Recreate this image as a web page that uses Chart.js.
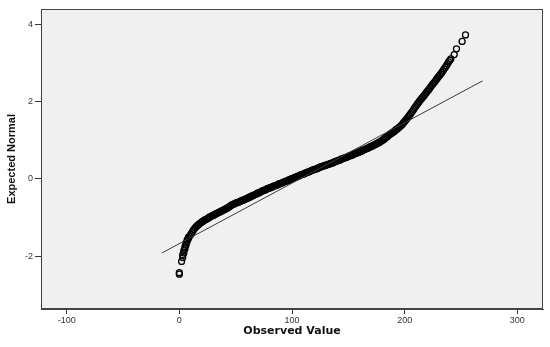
<!DOCTYPE html>
<html><head><meta charset="utf-8">
<script src="https://cdn.jsdelivr.net/npm/chart.js@4/dist/chart.umd.min.js"></script>
<style>html,body{margin:0;padding:0;background:#fff;overflow:hidden}#wrap{width:550px;height:347px}</style>
</head><body><div id="wrap"><canvas id="c" width="550" height="347"></canvas></div>
<script>
const observed = [
0,0,2,3,3,4,4,5,5,6,6,7,7,8,8,9,
10,11,12,13,14,15,16,17,18,19,
20,21,22,23,24,25,26,27,28,29,
30,31,32,33,34,35,36,37,38,39,
40,41,42,43,44,45,46,47,48,49,
50,51,52,53,54,55,56,57,58,59,
60,61,62,63,64,65,66,67,68,69,
70,71,72,73,74,75,76,77,78,79,
80,81,82,83,84,85,86,87,88,89,
90,91,92,93,94,95,96,97,98,99,
100,101,102,103,104,105,106,107,108,109,
110,111,112,113,114,115,116,117,118,119,
120,121,122,123,124,125,126,127,128,129,
130,131,132,133,134,135,136,137,138,139,
140,141,142,143,144,145,146,147,148,149,
150,151,152,153,154,155,156,157,158,159,
160,161,162,163,164,165,166,167,168,169,
170,171,172,173,174,175,176,177,178,179,
180,181,182,183,184,185,186,187,188,189,
190,191,192,193,194,195,196,197,198,199,
200,201,202,203,204,205,206,207,208,209,
210,211,212,213,214,215,216,217,218,219,
220,221,222,223,224,225,226,227,228,229,
230,231,232,233,234,235,236,237,238,239,
240,241,244,246,251,254
];
const expectedNormal = [
-2.47,-2.43,-2.14,-2.04,-1.97,-1.92,-1.86,-1.81,-1.76,-1.71,-1.66,-1.62,-1.58,-1.55,-1.52,-1.49,
-1.45,-1.40,-1.35,-1.31,-1.27,-1.24,-1.21,-1.19,-1.16,-1.14,
-1.12,-1.10,-1.08,-1.06,-1.05,-1.03,-1.01,-0.99,-0.98,-0.96,
-0.95,-0.93,-0.92,-0.90,-0.89,-0.87,-0.86,-0.84,-0.83,-0.81,
-0.80,-0.78,-0.77,-0.75,-0.73,-0.71,-0.69,-0.67,-0.66,-0.65,
-0.63,-0.62,-0.61,-0.60,-0.59,-0.57,-0.56,-0.55,-0.54,-0.52,
-0.51,-0.50,-0.48,-0.47,-0.45,-0.44,-0.43,-0.41,-0.40,-0.38,
-0.37,-0.36,-0.34,-0.33,-0.31,-0.30,-0.29,-0.28,-0.26,-0.25,
-0.24,-0.23,-0.22,-0.20,-0.19,-0.18,-0.17,-0.16,-0.14,-0.13,
-0.12,-0.11,-0.10,-0.08,-0.07,-0.06,-0.05,-0.04,-0.02,-0.01,
0.00,0.01,0.03,0.04,0.05,0.06,0.07,0.09,0.10,0.11,
0.12,0.13,0.15,0.16,0.17,0.18,0.19,0.21,0.22,0.23,
0.24,0.25,0.26,0.27,0.29,0.30,0.31,0.32,0.33,0.34,
0.35,0.36,0.37,0.38,0.39,0.40,0.41,0.42,0.44,0.45,
0.46,0.47,0.48,0.49,0.51,0.52,0.53,0.54,0.55,0.56,
0.58,0.59,0.60,0.61,0.62,0.64,0.65,0.66,0.67,0.68,
0.70,0.71,0.72,0.74,0.75,0.76,0.78,0.79,0.80,0.82,
0.83,0.84,0.86,0.87,0.89,0.90,0.92,0.94,0.95,0.97,
0.99,1.01,1.03,1.06,1.08,1.10,1.13,1.15,1.17,1.19,
1.21,1.23,1.26,1.28,1.30,1.33,1.35,1.38,1.41,1.45,
1.48,1.52,1.55,1.59,1.63,1.67,1.71,1.75,1.79,1.84,
1.88,1.92,1.96,2.00,2.04,2.07,2.11,2.14,2.18,2.22,
2.26,2.29,2.33,2.37,2.41,2.45,2.48,2.52,2.56,2.60,
2.64,2.67,2.71,2.75,2.79,2.84,2.88,2.92,2.97,3.02,
3.06,3.10,3.21,3.36,3.55,3.72
];
// Reference line end points
const lineObserved = [-15.4, 269.1];
const lineExpected = [-1.92, 2.53];
// Axis ticks
const xTicks = [-100, 0, 100, 200, 300];
const yTicks = [-2, 0, 2, 4];
const xTitle = 'Observed Value';
const yTitle = 'Expected Normal';

const points = observed.map((v, i) => ({x: v, y: expectedNormal[i]}));
const linePts = lineObserved.map((v, i) => ({x: v, y: lineExpected[i]}));

const frame = {
  id: 'frame',
  beforeDatasetsDraw(chart) {
    const {ctx, chartArea: a} = chart;
    ctx.save();
    ctx.fillStyle = '#f0f0f0';
    ctx.fillRect(a.left, a.top, a.right - a.left, a.bottom - a.top);
    ctx.restore();
  },
  afterDraw(chart) {
    const {ctx, chartArea: a} = chart;
    ctx.save();
    ctx.strokeStyle = '#444';
    ctx.lineWidth = 1;
    ctx.strokeRect(a.left + 0.5, a.top + 0.5, a.right - a.left - 1, a.bottom - a.top - 1);
    ctx.restore();
  }
};

new Chart(document.getElementById('c'), {
  type: 'scatter',
  data: {
    datasets: [
      {
        type: 'line', data: linePts, borderColor: '#3a3a3a', borderWidth: 1,
        pointRadius: 0, fill: false, order: 0
      },
      {
        data: points, pointRadius: 3, pointBorderWidth: 1.3,
        borderColor: '#000', backgroundColor: 'rgba(0,0,0,0)',
        pointBackgroundColor: 'rgba(0,0,0,0)', pointBorderColor: '#000', order: 1
      }
    ]
  },
  options: {
    responsive: false, animation: false, devicePixelRatio: 1,
    layout: {padding: {left: 0, right: 7, top: 9, bottom: 0}},
    plugins: {legend: {display: false}, tooltip: {enabled: false}},
    scales: {
      x: {
        type: 'linear', min: -122.8, max: 322.8,
        afterBuildTicks: s => { s.ticks = xTicks.map(v => ({value: v})); },
        afterFit: s => { s.height = 38; },
        grid: {drawOnChartArea: false, drawTicks: true, tickLength: 5, color: '#333', tickColor: '#333'},
        border: {display: true, color: '#444', width: 1},
        ticks: {font: {family: 'Liberation Sans', size: 9}, color: '#333', padding: 1, maxRotation: 0, autoSkip: false, callback: v => String(v)},
        title: {display: true, text: xTitle, color: '#111', font: {family: 'DejaVu Sans', size: 11, weight: 'bold'}, padding: {top: 0, bottom: 9}}
      },
      y: {
        type: 'linear', min: -3.37, max: 4.39,
        afterBuildTicks: s => { s.ticks = yTicks.map(v => ({value: v})); },
        afterFit: s => { s.width = 41; },
        grid: {drawOnChartArea: false, drawTicks: true, tickLength: 6, color: '#333', tickColor: '#333'},
        border: {display: true, color: '#444', width: 1},
        ticks: {font: {family: 'Liberation Sans', size: 9}, color: '#333', padding: 2, autoSkip: false, callback: v => String(v)},
        title: {display: true, text: yTitle, color: '#111', font: {family: 'Liberation Sans', size: 11, weight: 'bold'}, padding: {top: 5, bottom: 0}}
      }
    }
  },
  plugins: [frame]
});
</script>
</body></html>
